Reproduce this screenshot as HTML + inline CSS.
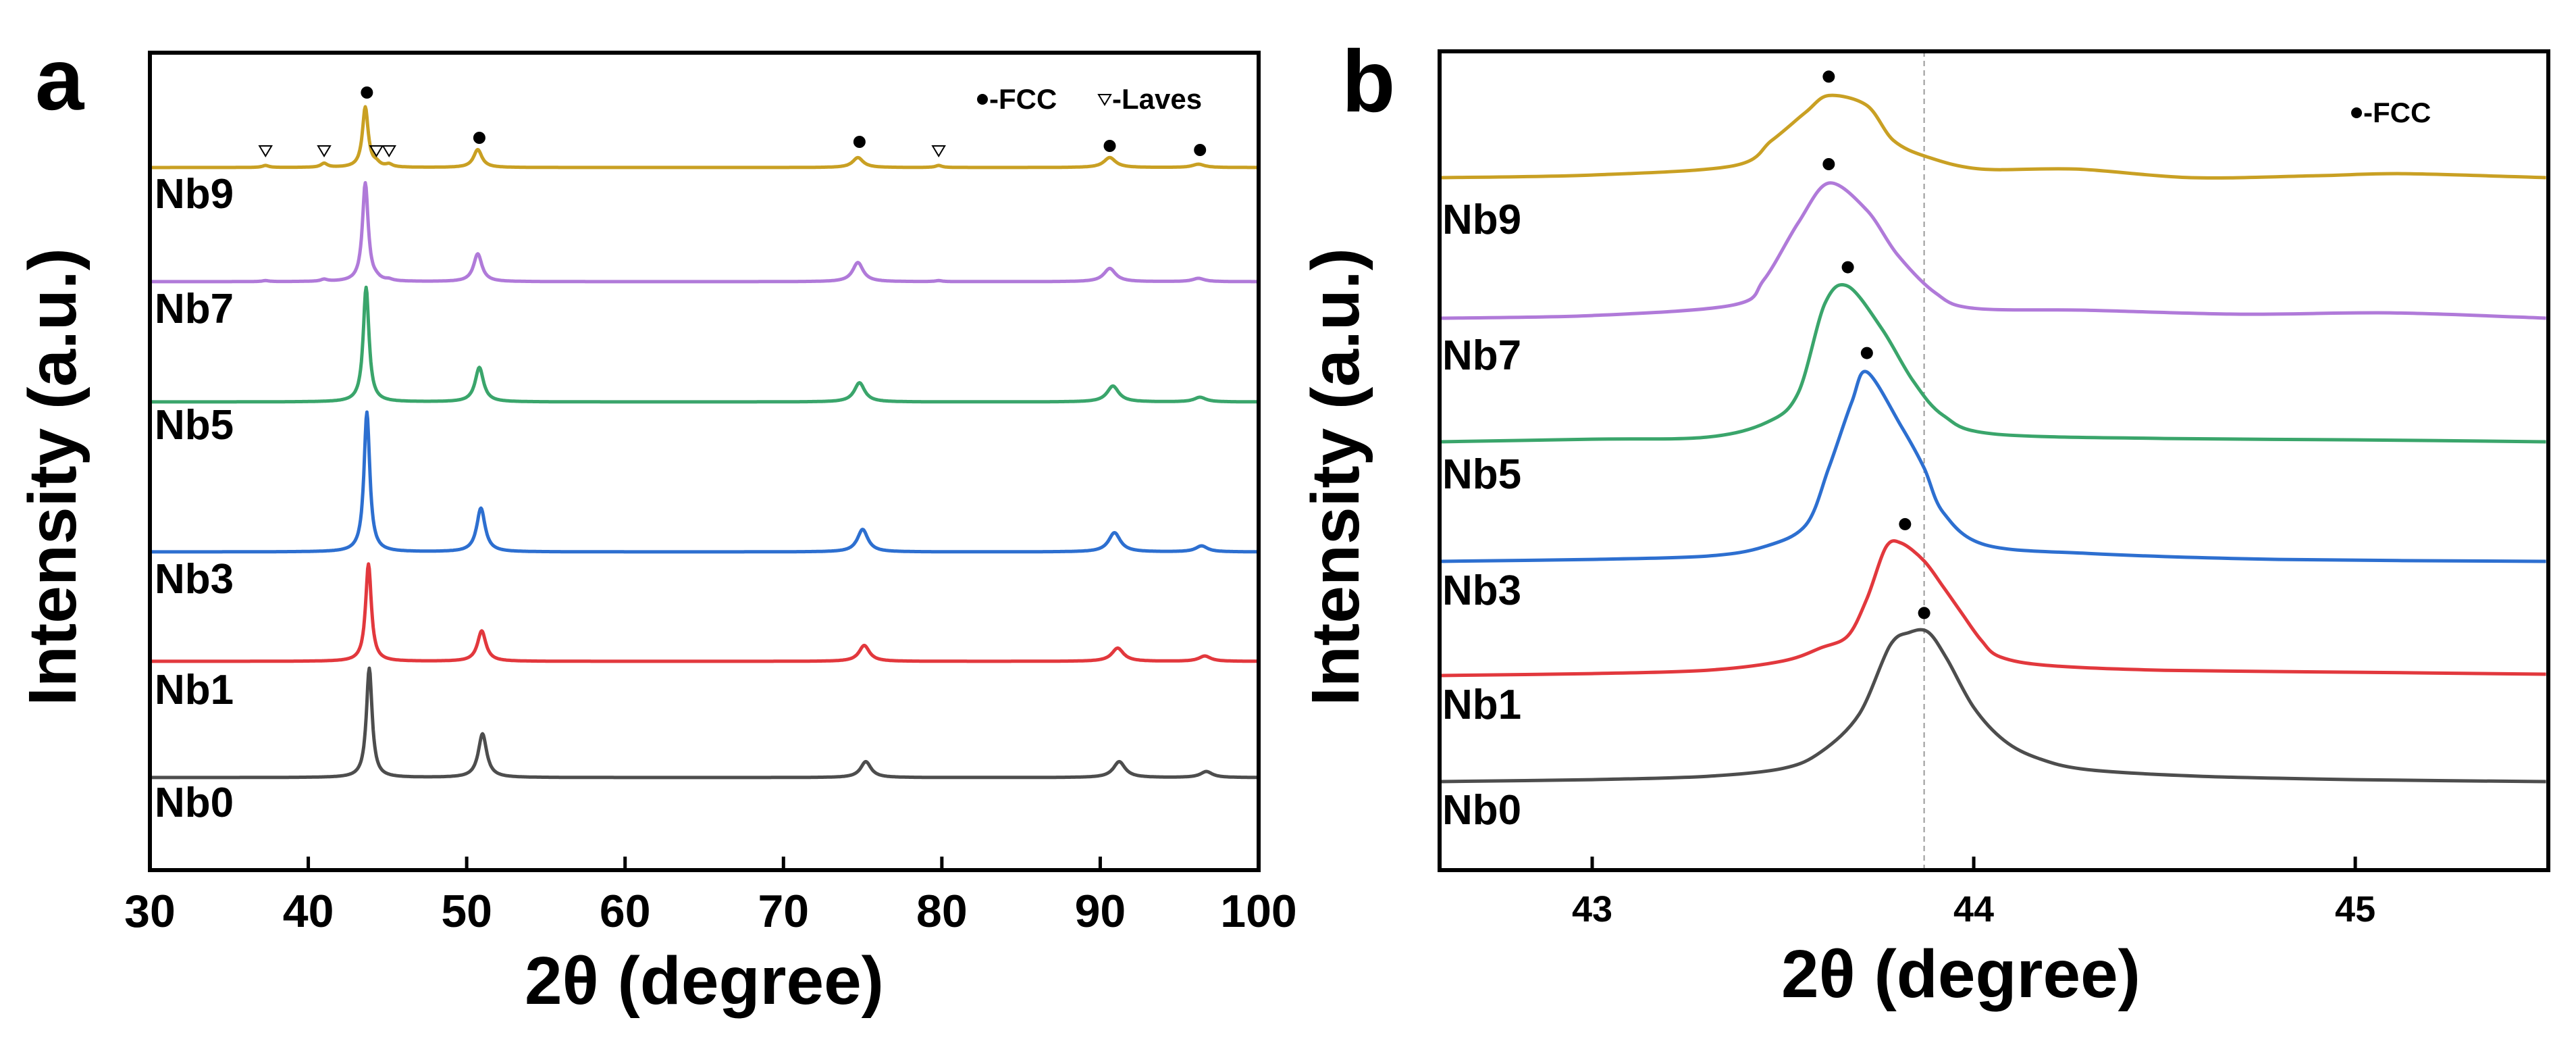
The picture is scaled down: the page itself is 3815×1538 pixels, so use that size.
<!DOCTYPE html>
<html><head><meta charset="utf-8"><style>
html,body{margin:0;padding:0;background:#fff;}
svg{display:block;font-family:"Liberation Sans Narrow","Liberation Sans",Arial,sans-serif;font-weight:bold;}
</style></head><body>
<svg id="fig" width="3815" height="1538" viewBox="0 0 3815 1538" xmlns="http://www.w3.org/2000/svg">
<rect width="3815" height="1538" fill="#fff"/>
<g id="pa"></g>
<g id="pb"></g>
</svg>
<script>
// ---------- data ----------
const seriesNames = ["Nb0","Nb1","Nb3","Nb5","Nb7","Nb9"];
const seriesColors = ["#4d4d4d","#e2383d","#2d6fd0","#3aa56b","#b07ad9","#c9a023"];
// panel a: peak positions (deg), heights (a.u.), half widths (deg)
const aPeakPos = [
 [43.85,51.0,75.2,91.2,96.7],
 [43.8,50.95,75.1,91.1,96.6],
 [43.7,50.9,75.0,90.9,96.4],
 [43.65,50.8,74.8,90.8,96.3],
 [43.6,50.7,74.7,90.6,96.2],
 [43.6,50.7,74.7,90.6,96.2]];
const aPeakH = [
 [165,66,24,24,9],
 [147,46,24,20,8],
 [211,66,34,29,9],
 [173,52,29,24,7],
 [149,42,29,20,5],
 [91,27,15,15,5]];
const aPeakW = [0.22,0.32,0.4,0.45,0.45];
const aLavesPos = [37.3,41.0,44.3,45.1,79.8];
const aLavesH = [3,6,5,4,3];
const aBaseline = [1151,979,817,595,417,248];
const aTicks = [30,40,50,60,70,80,90,100];
const aFccPos = [43.7,50.8,74.8,90.6,96.3];
const aFccY = [137,204,210,216,222];
// panel b: sampled profiles (deg, height above baseline)
const bX = [
 [42.6,43.0,43.3,43.5,43.6,43.7,43.78,43.83,43.88,43.93,44.0,44.08,44.17,44.3,44.6,45.0,45.5],
 [42.6,43.0,43.3,43.5,43.6,43.67,43.72,43.77,43.81,43.87,43.92,43.97,44.02,44.07,44.2,44.5,45.0,45.5],
 [42.6,43.0,43.3,43.45,43.56,43.62,43.68,43.72,43.81,43.87,43.92,44.03,44.3,44.8,45.5],
 [42.6,43.0,43.3,43.46,43.54,43.61,43.67,43.76,43.84,43.92,44.05,44.5,45.0,45.5],
 [42.6,43.0,43.37,43.45,43.54,43.62,43.72,43.8,43.9,44.0,44.3,44.7,45.1,45.5],
 [42.6,43.0,43.37,43.47,43.56,43.62,43.72,43.79,43.88,44.02,44.27,44.57,44.9,45.13,45.5]];
const bY = [
 [0,3,8,20,45,102,205,225,226,185,112,62,35,18,8,3,0],
 [0,3,8,22,42,60,116,194,200,173,134,93,53,28,15,8,5,2],
 [0,3,8,22,55,141,240,286,204,141,74,25,12,3,0],
 [0,4,7,30,74,209,235,170,93,40,12,5,3,0],
 [0,4,20,58,144,204,163,96,38,15,12,6,8,0],
 [0,4,18,56,99,124,109,56,31,13,13,0,3,6,0]];
const bBaseline = [1157,1000,831,654,471,263];
const bTicks = [43,44,45];
const bPeakDeg = [43.87,43.82,43.72,43.67,43.62,43.62];
const bLabelY = [1198,1042,873,701,525,324];
const aLabelY = [1187,1020,856,628,456,286];

// ---------- helpers ----------
const NS="http://www.w3.org/2000/svg";
function mk(parent,tag,attrs,text){const e=document.createElementNS(NS,tag);for(const k in attrs)e.setAttribute(k,attrs[k]);if(text!==undefined)e.textContent=text;parent.appendChild(e);return e;}
function smoothPath(pts){let d="M"+pts[0][0].toFixed(1)+","+pts[0][1].toFixed(1);
 for(let i=0;i<pts.length-1;i++){const p0=pts[Math.max(0,i-1)],p1=pts[i],p2=pts[i+1],p3=pts[Math.min(pts.length-1,i+2)];
  const t=0.16;const c1=[p1[0]+(p2[0]-p0[0])*t,p1[1]+(p2[1]-p0[1])*t],c2=[p2[0]-(p3[0]-p1[0])*t,p2[1]-(p3[1]-p1[1])*t];
  d+=`C${c1[0].toFixed(1)},${c1[1].toFixed(1)} ${c2[0].toFixed(1)},${c2[1].toFixed(1)} ${p2[0].toFixed(1)},${p2[1].toFixed(1)}`;}
 return d;}
const pa=document.getElementById('pa'), pb=document.getElementById('pb');

// ---------- panel a ----------
const aL=222,aR=1864,aT=78,aB=1288;
const ax=v=>aL+(v-30)/(100-30)*(aR-aL);
const ayScale=1/1.02;
function profileA(i,x){let y=0;for(let k=0;k<aPeakPos[i].length;k++){const d=(x-aPeakPos[i][k])/aPeakW[k];y+=aPeakH[i][k]/(1+d*d);}
 if(i===5||i===4){const f=i===5?1:0.5;for(let k=0;k<aLavesPos.length;k++){const d=(x-aLavesPos[k])/0.25;y+=f*aLavesH[k]/(1+d*d);}}return y;}
for(let i=0;i<6;i++){
 let d="";for(let x=30;x<=100.001;x+=0.05){const y=aBaseline[i]-profileA(i,x)*ayScale;d+=(d?"L":"M")+ax(x).toFixed(1)+","+y.toFixed(1);}
 const p=mk(pa,'path',{d:d,fill:'none',stroke:seriesColors[i],'stroke-width':5,'stroke-linejoin':'round'});
 
 
 const t=mk(pa,'text',{x:229,y:aLabelY[i]+22,'font-size':62,fill:'#000'},seriesNames[i]);
 
 
}
for(let k=0;k<aFccPos.length;k++){const c=mk(pa,'circle',{cx:ax(aFccPos[k]),cy:aFccY[k],r:9,fill:'#000'});
 
 }
for(let k=0;k<aLavesPos.length;k++){const x=ax(aLavesPos[k]);const t=mk(pa,'path',{d:`M${x-9},216 L${x+9},216 L${x},231 Z`,fill:'none',stroke:'#000','stroke-width':2});
 
 }
mk(pa,'rect',{x:aL,y:aT,width:aR-aL,height:aB-aT,fill:'none',stroke:'#000','stroke-width':6});
aTicks.forEach(v=>{const x=ax(v);mk(pa,'line',{x1:x,y1:aB,x2:x,y2:aB-20,stroke:'#000','stroke-width':5});
 const t=mk(pa,'text',{x:x,y:1372,'font-size':68,'text-anchor':'middle'},String(v));
 
 });
mk(pa,'text',{x:1043,y:1486,'font-size':100,'text-anchor':'middle',},'2θ (degree)');
mk(pa,'text',{x:0,y:0,'font-size':100,'text-anchor':'middle',transform:'translate(112,706) rotate(-90)',},'Intensity (a.u.)');
mk(pa,'text',{x:52,y:162,'font-size':130,},'a');
mk(pa,'circle',{cx:1455,cy:147,r:8,fill:'#000',});
mk(pa,'text',{x:1465,y:161,'font-size':42,},'-FCC');
mk(pa,'path',{d:'M1627,140 L1645,140 L1636,155 Z',fill:'none',stroke:'#000','stroke-width':2,});
mk(pa,'text',{x:1647,y:161,'font-size':42,},'-Laves');

// ---------- panel b ----------
const bL=2132,bR=3774,bT=76,bB=1288;
const bxMin=42.6,bxMax=45.506;
const bx=v=>bL+(v-bxMin)/(bxMax-bxMin)*(bR-bL);
const byScale=1/1.02;
mk(pb,'line',{x1:bx(43.87),y1:bT,x2:bx(43.87),y2:bB,stroke:'#999','stroke-width':2,'stroke-dasharray':'8,6',});
for(let i=0;i<6;i++){
 const pts=[];for(let k=0;k<bX[i].length;k++){pts.push([bx(bX[i][k]),bBaseline[i]-bY[i][k]*byScale]);}
 const p=mk(pb,'path',{d:smoothPath(pts),fill:'none',stroke:seriesColors[i],'stroke-width':5,'stroke-linejoin':'round'});
 
 
 const pkIdx=bY[i].indexOf(Math.max(...bY[i]));
 const c=mk(pb,'circle',{cx:bx(bPeakDeg[i]),cy:bBaseline[i]-bY[i][pkIdx]*byScale-28,r:9,fill:'#000'});
 
 
 const t=mk(pb,'text',{x:2136,y:bLabelY[i]+22,'font-size':62,fill:'#000'},seriesNames[i]);
 
 
}
mk(pb,'rect',{x:bL,y:bT,width:bR-bL,height:bB-bT,fill:'none',stroke:'#000','stroke-width':6});
bTicks.forEach(v=>{const x=bx(v);mk(pb,'line',{x1:x,y1:bB,x2:x,y2:bB-20,stroke:'#000','stroke-width':5});
 const t=mk(pb,'text',{x:x,y:1364,'font-size':54,'text-anchor':'middle'},String(v));
 
 });
mk(pb,'text',{x:2904,y:1476,'font-size':100,'text-anchor':'middle',},'2θ (degree)');
mk(pb,'text',{x:0,y:0,'font-size':100,'text-anchor':'middle',transform:'translate(2012,706) rotate(-90)',},'Intensity (a.u.)');
mk(pb,'text',{x:1987,y:165,'font-size':130,},'b');
mk(pb,'circle',{cx:3490,cy:167,r:8,fill:'#000',});
mk(pb,'text',{x:3500,y:181,'font-size':42,},'-FCC');
</script>
</body></html>
